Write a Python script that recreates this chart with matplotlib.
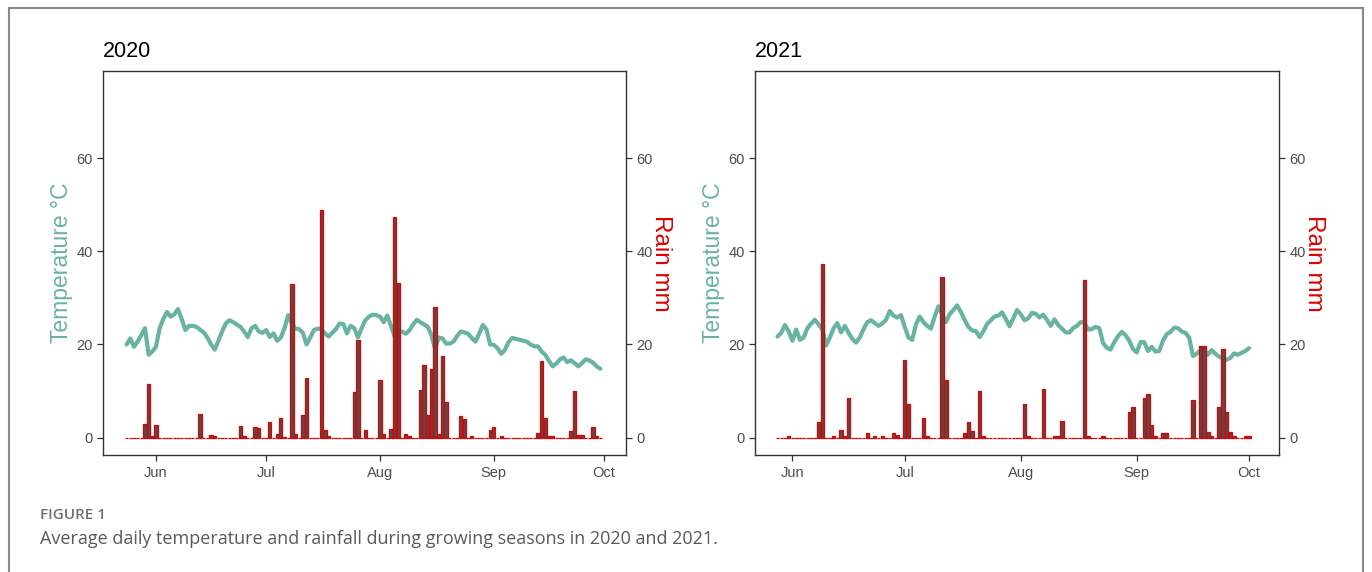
import matplotlib.pyplot as plt
import matplotlib.dates as mdates
from matplotlib.lines import Line2D
import pandas as pd

plt.rcParams['font.family'] = ['Liberation Sans', 'DejaVu Sans']

# Daily mean temperature (deg C), first day given by the start date
temp_start_2020 = '2020-05-24'
temp_2020 = [
    20.0, 21.3, 19.5, 20.6, 22.0, 23.5, 17.8, 18.5,
    19.5, 23.5, 25.5, 27.0, 26.0, 26.5, 27.6, 25.5, 23.1, 24.0,
    24.0, 23.8, 23.2, 22.6, 21.5, 20.0, 18.9, 20.8, 22.8, 24.5,
    25.2, 24.8, 24.3, 23.8, 22.8, 21.6, 23.5, 24.0, 22.8, 22.5,
    23.1, 21.6, 22.4, 20.8, 21.5, 23.5, 26.3, 24.5, 23.4, 23.3,
    22.5, 20.0, 21.5, 23.1, 23.4, 23.3, 22.4, 21.7, 22.5, 23.3,
    24.5, 24.4, 22.4, 24.0, 23.5, 21.5, 23.5, 25.2, 26.0, 26.4,
    26.3, 26.0, 24.8, 26.2, 24.0, 21.7, 22.5, 22.8, 22.3, 23.0,
    24.3, 25.3, 24.8, 24.3, 23.8, 22.0, 19.0, 21.5, 21.3, 20.2,
    20.2, 20.6, 21.8, 22.8, 22.6, 22.3, 21.4, 20.6, 22.3, 24.2,
    23.2, 20.0, 19.9, 19.2, 18.0, 18.8, 20.5, 21.4, 21.2, 21.0,
    20.8, 20.6, 20.0, 19.6, 19.6, 18.5, 17.8, 16.5, 15.3, 15.9,
    16.8, 17.2, 16.2, 16.6, 16.0, 15.3, 16.0, 16.8, 16.6, 16.1,
    15.3, 14.8,
]
temp_start_2021 = '2021-05-28'
temp_2021 = [
    21.7, 22.5, 24.2, 22.8,
    20.8, 23.2, 21.0, 21.5, 23.5, 24.5, 25.3, 24.3, 23.2, 19.8,
    21.5, 23.5, 24.6, 22.6, 24.0, 22.5, 21.2, 20.4, 21.5, 23.3,
    24.8, 25.2, 24.6, 24.0, 24.5, 25.3, 27.2, 26.2, 25.8, 26.3,
    23.8, 21.5, 21.0, 24.3, 26.0, 24.8, 24.0, 23.4, 26.0, 28.2,
    26.5, 24.8, 26.5, 27.4, 28.4, 27.0, 25.3, 23.8, 23.0, 22.9,
    21.6, 22.8, 24.4, 25.2, 26.0, 26.2, 26.9, 25.5, 23.9, 25.6,
    27.4, 26.5, 25.2, 25.6, 26.8, 26.6, 25.8, 26.4, 25.3, 24.0,
    25.4, 24.2, 23.4, 22.6, 22.6, 23.5, 24.0, 24.8, 24.7, 23.2,
    23.3, 23.8, 23.5, 20.3, 19.3, 18.9, 20.5, 21.8, 22.7, 22.0,
    20.8, 19.0, 18.3, 20.5, 20.5, 18.6, 19.5, 18.5, 18.6, 20.8,
    22.2, 22.7, 23.6, 23.5, 22.8, 22.5, 21.5, 17.5, 18.0, 18.7,
    18.8, 17.8, 18.8, 18.0, 17.4, 17.0, 16.7, 17.1, 18.1, 17.8,
    18.2, 18.6, 19.2,
]

# Rain days (mm); all other days are 0
rain_dates_2020 = [
    '05-29', '05-30', '05-31', '06-01', '06-13', '06-16', '06-17', '06-24',
    '06-25', '06-28', '06-29', '07-02', '07-04', '07-05', '07-06', '07-08',
    '07-09', '07-11', '07-12', '07-16', '07-17', '07-18', '07-25', '07-26',
    '07-28', '08-01', '08-02', '08-04', '08-05', '08-06', '08-08', '08-09',
    '08-12', '08-13', '08-14', '08-15', '08-16', '08-17', '08-18', '08-19',
    '08-23', '08-24', '08-26', '08-31', '09-01', '09-03', '09-13', '09-14',
    '09-15', '09-16', '09-17', '09-22', '09-23', '09-24', '09-25', '09-28',
    '09-29',
]
rain_mm_2020 = [
    3.0, 11.5, 0.3, 2.8, 5.1, 0.6, 0.3, 2.4,
    0.3, 2.2, 2.0, 3.3, 0.8, 4.1, 0.2, 33.0,
    0.7, 4.9, 12.9, 49.0, 1.7, 0.3, 9.8, 20.9,
    1.7, 12.3, 0.7, 1.9, 47.4, 33.3, 0.7, 0.3,
    10.3, 15.5, 4.9, 14.7, 28.0, 0.7, 17.6, 7.6,
    4.6, 3.9, 0.3, 1.7, 2.2, 0.3, 1.0, 16.4,
    4.1, 0.3, 0.3, 1.5, 10.0, 0.6, 0.6, 2.2,
    0.3,
]
rain_dates_2021 = [
    '05-31', '06-08', '06-09', '06-12', '06-14', '06-15', '06-16', '06-21',
    '06-23', '06-25', '06-28', '06-29', '07-01', '07-02', '07-06', '07-07',
    '07-11', '07-12', '07-17', '07-18', '07-19', '07-21', '07-22', '08-02',
    '08-03', '08-07', '08-10', '08-11', '08-12', '08-18', '08-19', '08-23',
    '08-30', '08-31', '09-03', '09-04', '09-05', '09-06', '09-08', '09-09',
    '09-16', '09-18', '09-19', '09-20', '09-21', '09-23', '09-24', '09-25',
    '09-26', '09-27', '09-30', '10-01',
]
rain_mm_2021 = [
    0.4, 3.3, 37.3, 0.4, 1.7, 0.3, 8.6, 0.9,
    0.3, 0.4, 0.9, 0.6, 16.6, 7.3, 4.1, 0.3,
    34.6, 12.3, 1.0, 3.3, 1.4, 9.9, 0.3, 7.3,
    0.3, 10.4, 0.3, 0.3, 3.5, 33.9, 0.3, 0.3,
    5.6, 6.5, 8.4, 9.4, 2.6, 0.3, 0.9, 0.9,
    8.1, 19.6, 19.6, 1.2, 0.4, 6.5, 19.0, 5.6,
    1.2, 0.4, 0.4, 0.4,
]

years = ['2020', '2021']
temp_starts = [temp_start_2020, temp_start_2021]
temps = [temp_2020, temp_2021]
rain_dates = [rain_dates_2020, rain_dates_2021]
rain_mm = [rain_mm_2020, rain_mm_2021]
xlims = [('2020-05-17 14:00', '2020-10-07'), ('2021-05-22', '2021-10-09')]
month_ticks = ['06-01', '07-01', '08-01', '09-01', '10-01']

temp_color = '#69b3a2'
rain_color = '#e00000'
bar_fill = '#5a4a4a'
frame_color = '#333333'
tick_text = '#4d4d4d'

fig = plt.figure(figsize=(13.72, 5.72), dpi=100)
fig.patch.set_facecolor('white')

axes_pos = [[0.0751, 0.2045, 0.3812, 0.6713], [0.5503, 0.2045, 0.3819, 0.6713]]

for i in range(2):
    ax = fig.add_axes(axes_pos[i])
    dates = pd.date_range(temp_starts[i], periods=len(temps[i]), freq='D')
    rain = pd.Series(0.0, index=dates)
    for d, mm in zip(rain_dates[i], rain_mm[i]):
        rain[pd.Timestamp(years[i] + '-' + d)] = mm

    ax.plot(dates, temps[i], color=temp_color, lw=3.0, zorder=2, solid_capstyle='round')
    ax.bar(rain.index, rain.values, width=0.9, color=bar_fill,
           edgecolor=rain_color, linewidth=0.9, zorder=3)

    ax.set_ylim(-3.75, 78.75)
    ax.set_xlim(pd.Timestamp(xlims[i][0]), pd.Timestamp(xlims[i][1]))
    ax.set_yticks([0, 20, 40, 60])
    ax.set_xticks([pd.Timestamp(years[i] + '-' + m) for m in month_ticks])
    ax.xaxis.set_major_formatter(mdates.DateFormatter('%b'))

    for sp in ax.spines.values():
        sp.set_color(frame_color)
        sp.set_linewidth(1.0)
    ax.tick_params(axis='both', colors=frame_color, labelcolor=tick_text,
                   labelsize=10.5, length=4, width=0.9)
    ax.tick_params(axis='x', pad=4)

    ax.set_ylabel('Temperature °C', color=temp_color, fontsize=16.5, labelpad=2)
    ax.set_title(years[i], loc='left', fontsize=15.5, pad=10, color='black')

    # right axis: rain uses the same scale
    ax2 = ax.twinx()
    ax2.set_ylim(ax.get_ylim())
    ax2.set_yticks([0, 20, 40, 60])
    ax2.tick_params(axis='y', colors=frame_color, labelcolor=tick_text,
                    labelsize=10.5, length=4, width=0.9)
    for sp in ax2.spines.values():
        sp.set_visible(False)
    ax2.set_ylabel('Rain mm', color=rain_color, fontsize=17.5, rotation=270,
                   labelpad=14)

# outer frame of the figure panel
frame_kw = dict(color='#8a8a8a', lw=1.5, transform=fig.transFigure)
fig.add_artist(Line2D([8.5 / 1372, 1362.5 / 1372], [1 - 7.5 / 572, 1 - 7.5 / 572], **frame_kw))
fig.add_artist(Line2D([8.5 / 1372, 8.5 / 1372], [0, 1 - 7.5 / 572], **frame_kw))
fig.add_artist(Line2D([1362.5 / 1372, 1362.5 / 1372], [0, 1 - 7.5 / 572], **frame_kw))

fig.text(40 / 1372, 1 - 515 / 572, 'FIGURE 1', fontsize=11, color='#707070',
         fontweight='semibold', family=['Open Sans', 'DejaVu Sans'], va='center')
fig.text(40 / 1372, 1 - 539 / 572,
         'Average daily temperature and rainfall during growing seasons in 2020 and 2021.',
         fontsize=13, color='#5a5a5a', family=['Open Sans', 'DejaVu Sans'], va='center')

plt.savefig('out.png', dpi=100)
